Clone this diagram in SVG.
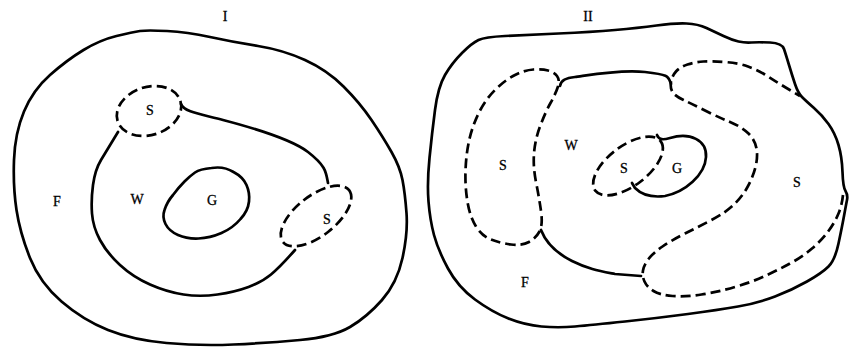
<svg xmlns="http://www.w3.org/2000/svg" width="851" height="350" viewBox="0 0 851 350">
<style>
.s{fill:none;stroke:#000;stroke-width:2.7;stroke-linecap:round;stroke-linejoin:round}
.d{fill:none;stroke:#000;stroke-width:2.7;stroke-dasharray:10 5;stroke-linecap:butt;stroke-linejoin:round}
.t{font-family:"Liberation Serif","DejaVu Serif",serif;font-size:14px;fill:#000;text-anchor:middle;stroke:#000;stroke-width:0.3}
</style>
<rect width="851" height="350" fill="#fff"/>
<g id="panel-I">
<text class="t" x="225" y="21">I</text>
<path id="I-outer" class="s" d="M167,31 Q187,32 210,37 Q233,42 258,46 Q283,50 305,60 Q327,70 343.5,86.5 Q360,103 371.5,120 Q383,137 391.5,152 Q400,167 402.5,180 Q405,193 406.5,213 Q408,233 402.5,258 Q397,283 382,300 Q367,317 350,327 Q333,337 300,340 Q267,343 233.5,344.5 Q200,346 166.5,343 Q133,340 108,330 Q83,320 61.5,301.5 Q40,283 30,258 Q20,233 16.5,210 Q13,187 14,160 Q15,133 24,111.5 Q33,90 50,75 Q67,60 83.5,50 Q100,40 116.5,36 Q133,32 140,31 Q147,30 167,31 Z"/>
<path id="I-W-top" class="s" d="M181,104 C184,112 200,114 223,120 S290,138 308,152 S326,172 328,183"/>
<path id="I-W-bottom" class="s" d="M118,132 Q107,150 101,160 Q95,170 93,185 Q91,200 92,213.5 Q93,227 100,240 Q107,253 120,265 Q133,277 150,284.5 Q167,292 183.5,294.5 Q200,297 217.5,294.5 Q235,292 248.5,287 Q262,282 271,274.5 Q280,267 295,250"/>
<ellipse id="I-S1" class="d" cx="149" cy="111" rx="33" ry="24" transform="rotate(-18 149 111)"/>
<ellipse id="I-S2" class="d" cx="316" cy="216" rx="42" ry="20" transform="rotate(-38 316 216)"/>
<path id="I-G" class="s" d="M211.5,168 Q224,166 233.5,172 Q243,177 246.5,185 Q250,193 249,201.5 Q248,211 240.5,219 Q233,228 221.5,233 Q210,238 198.5,238.5 Q187,239 178,235 Q169,231 165.5,224 Q162,217 164.5,210 Q167,202 173,195 Q179,187 184.5,181.5 Q190,176 195,172.5 Q200,169 211.5,168 Z"/>
<text class="t" x="150" y="115">S</text>
<text class="t" x="327" y="224">S</text>
<text class="t" x="137" y="204">W</text>
<text class="t" x="212" y="205">G</text>
<text class="t" x="57" y="206">F</text>
</g>
<g id="panel-II">
<text class="t" x="588" y="21">II</text>
<path id="II-outer" class="s" d="M505,36 Q525,35 558.5,33.5 Q592,32 615,30 Q638,28 656.5,25.5 Q675,23 686.5,23.5 Q698,24 706.5,28 Q715,32 723.5,36 Q732,40 738.5,41.5 Q745,43 751.5,42.5 Q758,42 770,42.5 Q782,43 784,49 Q786,55 789,65 Q792,75 795,84 Q798,93 802,97 Q806,101 814,108 Q822,115 828.5,124 Q835,133 838.5,145 Q842,157 842.5,172 Q843,187 845.5,191 Q848,195 847,200 Q846,205 844,216 Q842,227 838.5,243.5 Q835,260 828.5,266.5 Q822,273 807,281.5 Q792,290 775,296.5 Q758,303 738,306.5 Q718,310 688,314 Q658,318 625,321.5 Q592,325 575,326.5 Q558,328 541.5,326.5 Q525,325 508.5,318.5 Q492,312 475,299.5 Q458,287 448,268.5 Q438,250 434,235 Q430,220 428.5,201.5 Q427,183 429.5,158 Q432,133 435,110 Q438,87 445,75 Q452,63 462,53 Q472,43 478.5,40 Q485,37 505,36 Z"/>
<path id="II-S-left" class="d" d="M533.5,69.5 Q525,70 515,75 Q505,80 495,90 Q485,100 478.5,113.5 Q472,127 469,141 Q466,155 465.5,171 Q465,187 467.5,202 Q470,217 476,226.5 Q482,236 491,239.5 Q500,243 511,244.5 Q522,246 529,242 Q536,238 539.5,231.5 Q543,225 541,211 Q539,197 536,182 Q533,167 534,153.5 Q535,140 540,126.5 Q545,113 550.5,103 Q556,93 558,86.5 Q560,80 557,76 Q554,72 548,70.5 Q542,69 533.5,69.5 Z"/>
<path id="II-W-top" class="s" d="M560,86 C561,80 566,78 575,77 S620,69 645,72 S668,76 671,84"/>
<path id="II-W-bottom" class="s" d="M541,230 C546,243 556,253 572,261 S600,271 615,274 L641,276"/>
<path id="II-S-right" class="d" d="M843,195 Q842,205 838.5,213.5 Q835,222 828.5,231 Q822,240 812,248.5 Q802,257 790,263.5 Q778,270 765,276 Q752,282 735,287 Q718,292 701.5,294.5 Q685,297 672.5,296 Q660,295 653.5,291 Q647,287 644.5,281.5 Q642,276 643,270.5 Q644,265 648.5,259 Q653,253 662.5,246.5 Q672,240 685,233.5 Q698,227 711.5,220 Q725,213 733.5,205 Q742,197 747.5,187 Q753,177 755.5,167 Q758,157 756.5,148.5 Q755,140 748.5,133.5 Q742,127 730,122 Q718,117 705,110.5 Q692,104 683.5,100 Q675,96 672.5,92 Q670,88 671,82 Q672,76 676,71.5 Q680,67 687.5,64.5 Q695,62 703.5,61.5 Q712,61 725,62 Q738,63 748,66.5 Q758,70 768,76.5 Q778,83 789,89.5 L800,96"/>
<ellipse id="II-S-inner" class="d" cx="628" cy="166" rx="41" ry="20" transform="rotate(-37 628 166)"/>
<path id="II-G" class="s" d="M657,135 C659,140 663,140 670,138 C690,132 707,140 706,157 C705,175 685,192 665,196 C650,198 640,193 635,188 L632,183"/>
<text class="t" x="503" y="170">S</text>
<text class="t" x="571" y="150">W</text>
<text class="t" x="624" y="173">S</text>
<text class="t" x="677" y="173">G</text>
<text class="t" x="797" y="187">S</text>
<text class="t" x="525" y="287">F</text>
</g>
</svg>
